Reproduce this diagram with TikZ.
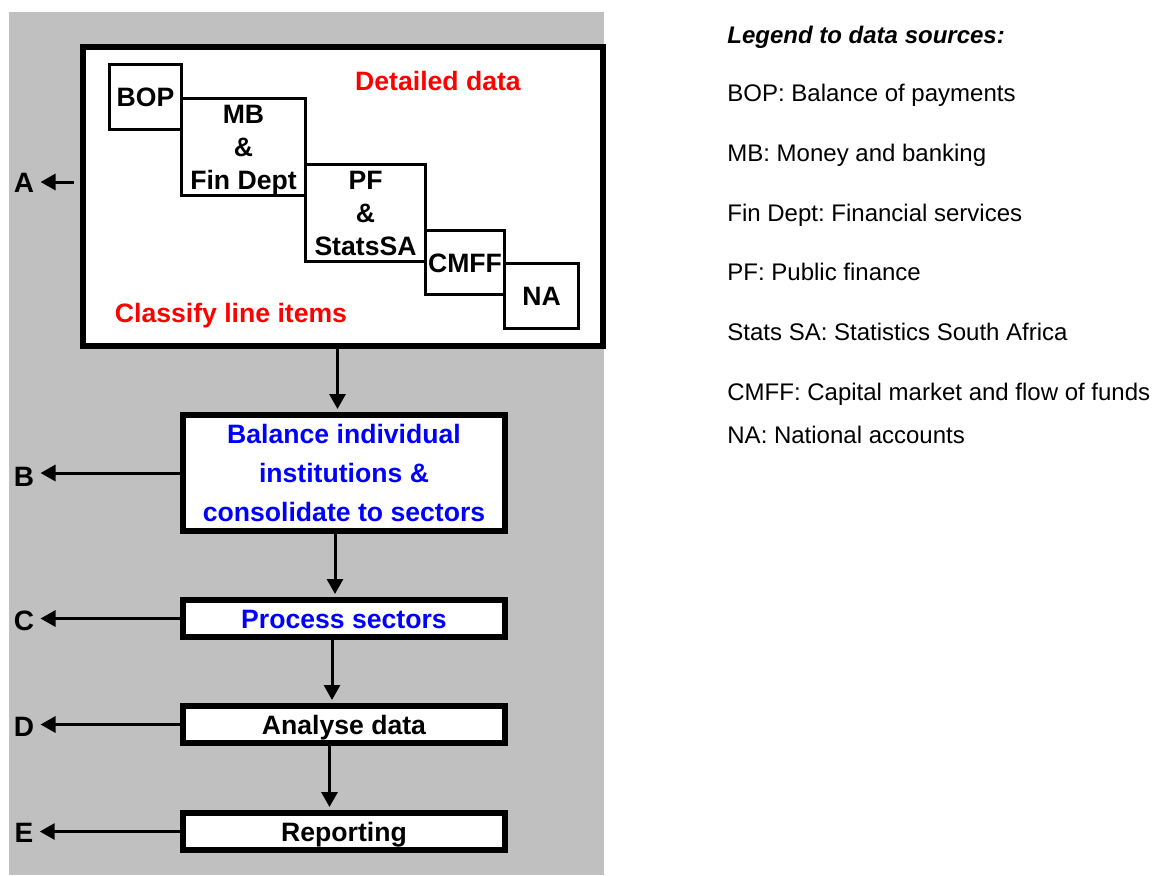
\documentclass[tikz,border=0pt]{standalone}
\usepackage{fontspec}
\setmainfont{Liberation Sans}
\setsansfont{Liberation Sans}
\usepackage{tikz}
\usetikzlibrary{arrows.meta,calc}
\frenchspacing
\definecolor{panel_gray}{RGB}{192,192,192}
\definecolor{item_red}{RGB}{255,0,0}
\definecolor{item_blue}{RGB}{0,0,255}
\newcommand{\boldtxt}{\sffamily\fontsize{13.3pt}{16.5pt}\selectfont\bfseries}
\newcommand{\legendtxt}{\sffamily\fontsize{12pt}{14pt}\selectfont}

\tikzset{
  outerbox/.style={draw, line width=3pt, fill=white, inner sep=0pt},
  srcbox/.style={draw, line width=1.5pt, inner sep=0pt, align=center, font=\boldtxt},
  stepbox/.style={draw, line width=3pt, fill=white, minimum width=161pt, minimum height=18.5pt, inner sep=0pt, align=center, font=\boldtxt},
  one_line/.style={text height=9.6pt, text depth=0pt},
  side_label/.style={font=\sffamily\fontsize{14pt}{16pt}\selectfont\bfseries, inner sep=3pt, text height=10pt, text depth=0pt},
  legend_line/.style={anchor=base west, inner sep=0pt, font=\legendtxt},
}

\begin{document}
\begin{tikzpicture}[x=0.5pt,y=-0.5pt,>={Triangle[length=7.5pt,width=8pt]},font=\sffamily]
    \useasboundingbox (0,0) rectangle (1154,875);
    \fill[panel_gray] (9,12) rectangle (604,875);

    % detailed data block
    \node[outerbox, minimum width=260pt, minimum height=149.5pt] (boxA) at (343,196.5) {};
    \node[srcbox, one_line, minimum width=36pt, minimum height=32.5pt] (bop) at (145.5,97) {BOP};
    \node[srcbox, text depth=0pt, minimum width=62pt, minimum height=48.5pt] (mb) at (243.5,147) {MB\\\&\\Fin Dept};
    \node[srcbox, minimum width=60pt, minimum height=48.5pt] (pf) at (365.5,213) {PF\\\&\\StatsSA};
    \node[srcbox, one_line, minimum width=39.5pt, minimum height=32pt] (cmff) at (465,262.5) {CMFF};
    \node[srcbox, one_line, minimum width=37pt, minimum height=32.5pt] (na) at (541.5,296) {NA};
    \node[font=\boldtxt, text=item_red, anchor=base] (detailed) at (438,90) {Detailed data};
    \node[font=\boldtxt, text=item_red, anchor=base] (classify) at (231,322) {Classify line items};

    % processing steps
    \node[stepbox, minimum height=58pt, text=item_blue, font=\sffamily\fontsize{13.3pt}{19.3pt}\selectfont\bfseries] (boxB) at (344,473) {Balance individual\\institutions \&\\consolidate to sectors};
    \node[stepbox, one_line, text=item_blue] (boxC) at (344,618.5) {Process sectors};
    \node[stepbox, one_line] (boxD) at (344,724.5) {Analyse data};
    \node[stepbox, one_line] (boxE) at (344,831.5) {Reporting};

    % side labels
    \node[side_label] (labA) at (24,182) {A};
    \node[side_label] (labB) at (24,476.5) {B};
    \node[side_label] (labC) at (24,620) {C};
    \node[side_label] (labD) at (24,726) {D};
    \node[side_label] (labE) at (24,832) {E};

    \begin{scope}[line width=1.5pt]
        \draw[->, shorten <=3pt] (boxA.west |- labA) -- (labA.east);
        \draw[->] (boxB.west) -- (boxB.west -| labB.east);
        \draw[->] (boxC.west) -- (boxC.west -| labC.east);
        \draw[->] (boxD.west) -- (boxD.west -| labD.east);
        \draw[->] (boxE.west) -- (boxE.west -| labE.east);

        \draw[->, shorten >=1.5pt] ([xshift=-2.75pt]boxA.south) -- ([xshift=-2.75pt]boxA.south |- boxB.north);
        \draw[->, shorten >=1.5pt] ([xshift=-4.5pt]boxB.south) -- ([xshift=-4.5pt]boxB.south |- boxC.north);
        \draw[->, shorten >=1.5pt] ([xshift=-6pt]boxC.south) -- ([xshift=-6pt]boxC.south |- boxD.north);
        \draw[->, shorten >=1.5pt] ([xshift=-7.25pt]boxD.south) -- ([xshift=-7.25pt]boxD.south |- boxE.north);
    \end{scope}

    % legend
    \node[legend_line, font=\legendtxt\bfseries\itshape] (legend_title) at (727,43) {Legend to data sources:};
    \node[legend_line] (leg_bop) at (727,101.5) {BOP: Balance of payments};
    \node[legend_line] (leg_mb) at (727,161.5) {MB: Money and banking};
    \node[legend_line] (leg_fin) at (727,221.5) {Fin Dept: Financial services};
    \node[legend_line] (leg_pf) at (727,280.5) {PF: Public finance};
    \node[legend_line] (leg_stats) at (727,340.5) {Stats SA: Statistics South Africa};
    \node[legend_line] (leg_cmff) at (727,400.5) {CMFF: Capital market and flow of funds};
    \node[legend_line] (leg_na) at (727,443.5) {NA: National accounts};
\end{tikzpicture}
\end{document}
